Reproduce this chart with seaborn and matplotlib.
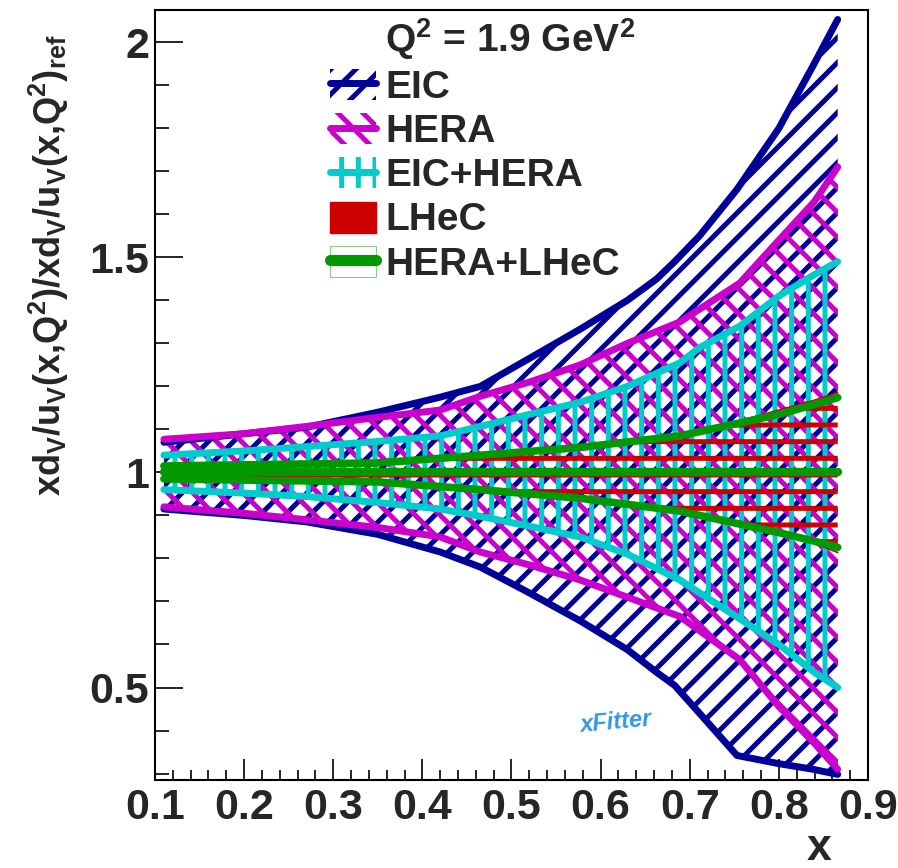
import numpy as np
import pandas as pd
import matplotlib
matplotlib.use("Agg")
import matplotlib.pyplot as plt
import matplotlib.hatch as mhatch
import seaborn as sns
from matplotlib.patches import Patch
from matplotlib.lines import Line2D
from matplotlib.ticker import MultipleLocator, FixedLocator, FixedFormatter

# ---------------- data ----------------
eic_x = [0.11, 0.2, 0.27, 0.35, 0.42, 0.465, 0.52, 0.577, 0.63, 0.663, 0.683, 0.711, 0.753, 0.80, 0.838, 0.866]
eic_up = [1.07, 1.09, 1.105, 1.14, 1.175, 1.20, 1.265, 1.333, 1.40, 1.45, 1.49, 1.55, 1.658, 1.80, 1.944, 2.053]
eic_lo = [0.915, 0.90, 0.885, 0.856, 0.815, 0.78, 0.72, 0.655, 0.588, 0.535, 0.505, 0.44, 0.342, 0.323, 0.31, 0.298]

hera_x = [0.11, 0.2, 0.27, 0.35, 0.42, 0.465, 0.52, 0.577, 0.63, 0.689, 0.756, 0.80, 0.84, 0.866]
hera_up = [1.077, 1.09, 1.107, 1.128, 1.145, 1.177, 1.21, 1.25, 1.30, 1.35, 1.44, 1.54, 1.63, 1.71]
hera_lo = [0.92, 0.905, 0.89, 0.872, 0.85, 0.815, 0.785, 0.75, 0.71, 0.665, 0.565, 0.456, 0.37, 0.31]

eh_x = [0.11, 0.2, 0.27, 0.35, 0.42, 0.465, 0.52, 0.577, 0.63, 0.689, 0.711, 0.756, 0.80, 0.84, 0.866]
eh_up = [1.04, 1.05, 1.06, 1.072, 1.085, 1.107, 1.135, 1.163, 1.20, 1.255, 1.29, 1.34, 1.41, 1.46, 1.49]
eh_lo = [0.96, 0.952, 0.944, 0.93, 0.915, 0.898, 0.875, 0.85, 0.81, 0.75, 0.72, 0.66, 0.60, 0.535, 0.50]

lhec_x = [0.11, 0.35, 0.465, 0.577, 0.689, 0.756, 0.80, 0.84, 0.866]
lhec_up = [1.015, 1.022, 1.04, 1.06, 1.09, 1.12, 1.145, 1.168, 1.186]
lhec_lo = [0.985, 0.978, 0.96, 0.942, 0.912, 0.885, 0.862, 0.835, 0.814]

hl_x = [0.11, 0.35, 0.465, 0.577, 0.689, 0.756, 0.80, 0.84, 0.866]
hl_up = [1.015, 1.022, 1.04, 1.058, 1.085, 1.115, 1.135, 1.158, 1.174]
hl_lo = [0.985, 0.978, 0.96, 0.94, 0.91, 0.88, 0.86, 0.84, 0.826]
hl_mid = [1.0, 1.0, 1.0, 1.0, 1.0, 1.0, 1.0, 1.0, 1.0]

labels = ["EIC", "HERA", "EIC+HERA", "LHeC", "HERA+LHeC"]
x_ticks = [0.1, 0.2, 0.3, 0.4, 0.5, 0.6, 0.7, 0.8, 0.9]
x_ticklabels = ["0.1", "0.2", "0.3", "0.4", "0.5", "0.6", "0.7", "0.8", "0.9"]
y_ticks = [0.5, 1.0, 1.5, 2.0]
y_ticklabels = ["0.5", "1", "1.5", "2"]

NAVY = "#000099"
MAG = "#cc00cc"
CYAN = "#00cccc"
RED = "#cc0000"
GREEN = "#009900"


# denser diagonal hatching (ROOT-like spacing)
class _DenseNE(mhatch.NorthEastHatch):
    def __init__(self, hatch, density):
        super().__init__(hatch, 8)


class _DenseSE(mhatch.SouthEastHatch):
    def __init__(self, hatch, density):
        super().__init__(hatch, 8)


mhatch._hatch_types = [
    _DenseNE if t is mhatch.NorthEastHatch else _DenseSE if t is mhatch.SouthEastHatch else t
    for t in mhatch._hatch_types
]

# ---------------- style ----------------
sns.set_theme(style="ticks")
plt.rcParams["font.family"] = ["Liberation Sans", "DejaVu Sans"]
plt.rcParams["font.weight"] = "bold"
plt.rcParams["mathtext.fontset"] = "custom"
plt.rcParams["mathtext.rm"] = "Liberation Sans:bold"
plt.rcParams["mathtext.it"] = "Liberation Sans:bold"
plt.rcParams["mathtext.bf"] = "Liberation Sans:bold"
plt.rcParams["hatch.linewidth"] = 3.6

fig = plt.figure(figsize=(8.98, 8.68), dpi=100)
ax = fig.add_axes([155 / 898, 1 - 780 / 868, 713 / 898, 770 / 868])


def band(x, lo, up, color, hatch, lw_edge):
    ax.fill_between(x, lo, up, facecolor="none", edgecolor=color, hatch=hatch, linewidth=0)
    df = pd.DataFrame({"x": list(x) * 2, "y": list(up) + list(lo),
                       "side": ["up"] * len(x) + ["lo"] * len(x)})
    sns.lineplot(data=df, x="x", y="y", units="side", estimator=None, color=color,
                 lw=lw_edge, ax=ax, legend=False, sort=False)


band(eic_x, eic_lo, eic_up, NAVY, "/", 5)
band(hera_x, hera_lo, hera_up, MAG, "\\", 5)
band(eh_x, eh_lo, eh_up, CYAN, "|", 5)
band(lhec_x, lhec_lo, lhec_up, RED, "-", 1.2)
band(hl_x, hl_lo, hl_up, GREEN, None, 5.5)
sns.lineplot(x=hl_x, y=hl_mid, color=GREEN, lw=6, ax=ax, legend=False)

# ---------------- axes ----------------
ax.set_xlim(0.1, 0.9)
ax.set_ylim(0.285, 2.075)
ax.xaxis.set_major_locator(FixedLocator(x_ticks))
ax.xaxis.set_major_formatter(FixedFormatter(x_ticklabels))
ax.xaxis.set_minor_locator(MultipleLocator(0.02))
ax.yaxis.set_major_locator(FixedLocator(y_ticks))
ax.yaxis.set_major_formatter(FixedFormatter(y_ticklabels))
ax.yaxis.set_minor_locator(MultipleLocator(0.1))
ax.tick_params(axis="both", which="both", direction="in", color="black",
               top=False, right=False, width=1.2)
ax.tick_params(axis="x", which="major", length=15, pad=6, labelsize=31)
ax.tick_params(axis="x", which="minor", length=7)
ax.tick_params(axis="y", which="major", length=20, pad=4, labelsize=31)
ax.tick_params(axis="y", which="minor", length=10)
for lab in ax.get_xticklabels() + ax.get_yticklabels():
    lab.set_fontweight("bold")
for s in ax.spines.values():
    s.set_visible(True)
    s.set_color("black")
    s.set_linewidth(1.5)
ax.set_facecolor("white")
ax.grid(False)

ax.set_xlabel("x", loc="right", fontsize=32, fontweight="bold")
ax.xaxis.set_label_coords((831 - 155) / 713, -0.062)
ax.set_ylabel(r"xd$_V$/u$_V$(x,Q$^2$)/xd$_V$/u$_V$(x,Q$^2$)$_{ref}$", loc="top",
              fontsize=26, fontweight="bold")
ax.yaxis.set_label_coords(-0.118, 1 - 25 / 770)

# ---------------- legend ----------------
h_eic = (Patch(facecolor="none", edgecolor=NAVY, hatch="/", linewidth=0),
         Line2D([], [], color=NAVY, lw=5))
h_hera = (Patch(facecolor="none", edgecolor=MAG, hatch="\\", linewidth=0),
          Line2D([], [], color=MAG, lw=5))
h_eh = (Patch(facecolor="none", edgecolor=CYAN, hatch="|", linewidth=0),
        Line2D([], [], color=CYAN, lw=5))
h_lhec = Patch(facecolor=RED, edgecolor=RED)
h_hl = (Patch(facecolor="none", edgecolor="#88cc88", linewidth=0.8),
        Line2D([], [], color=GREEN, lw=8))
leg = fig.legend([h_eic, h_hera, h_eh, h_lhec, h_hl], labels,
                 loc="upper left", bbox_to_anchor=(330 / 898, 1 - 69 / 868),
                 frameon=False, fontsize=28, borderpad=0, borderaxespad=0,
                 handlelength=1.18, handleheight=0.85, handletextpad=0.25,
                 labelspacing=0.185)
for t in leg.get_texts():
    t.set_fontweight("bold")

fig.text(385 / 898, 1 - 52 / 868, r"Q$^2$ = 1.9 GeV$^2$", fontsize=28,
         fontweight="bold", ha="left", va="baseline")

# xFitter logo text
ax.text(0.617, 0.42, "xFitter", color="#3399dd", fontsize=17, style="italic",
        ha="center", va="center", rotation=5)

fig.savefig("out.png", dpi=100, facecolor="white")
